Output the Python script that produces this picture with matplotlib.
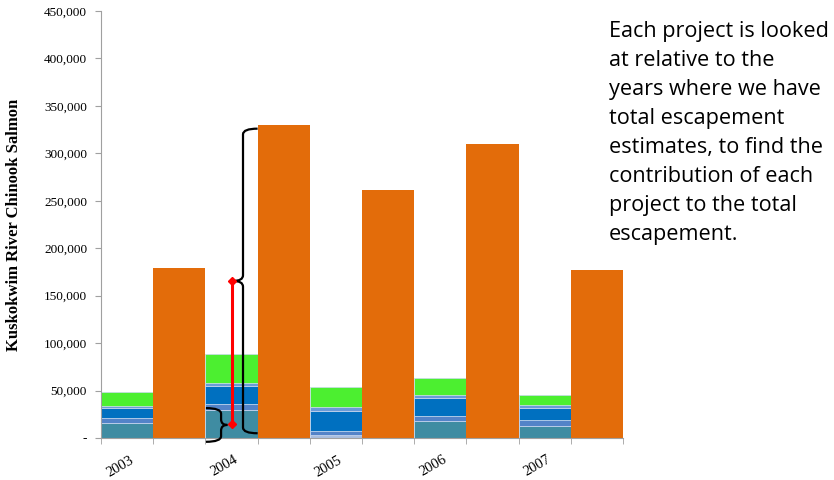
import matplotlib
matplotlib.use("Agg")
import matplotlib.pyplot as plt
import matplotlib.transforms as mtrans
import numpy as np
from matplotlib.path import Path
from matplotlib.patches import PathPatch
from matplotlib.ticker import FuncFormatter

years = ["2003", "2004", "2005", "2006", "2007"]
# stacked project contributions (fish)
teal = [15500, 29500, 0, 17900, 13000]
pale = [0, 0, 3000, 0, 0]
steel = [5300, 6000, 4400, 5300, 6000]
blue = [11200, 19500, 21400, 18900, 13000]
lightblue = [2000, 3000, 3500, 3200, 2800]
green = [14800, 31000, 21100, 17600, 10500]
# total escapement estimates
total = [179000, 330000, 261000, 310000, 177000]

layers = [teal, pale, steel, blue, lightblue, green]
colors = ["#3F8CA2", "#A8BEE0", "#5383C8", "#0070C0", "#6A9BD8", "#4CEF30"]
orange = "#E36C0A"

fig = plt.figure(figsize=(8.34, 4.8), dpi=100)
ax = fig.add_axes([0.1211, 0.0875, 0.626, 0.8896])

n = len(years)
xs_stack = np.arange(n) * 2
xs_tot = xs_stack + 1
bottom = np.zeros(n)
for vals, c in zip(layers, colors):
    v = np.array(vals, dtype=float)
    ax.bar(xs_stack, v, width=1.0, bottom=bottom, color=c, edgecolor="#c9d8ee", linewidth=0.5)
    bottom += v
ax.bar(xs_tot, total, width=1.0, color=orange, edgecolor="none")

ax.set_xlim(-0.5, 2 * n - 0.5)
ax.set_ylim(0, 450000)

# y axis
ax.set_yticks(np.arange(0, 450001, 50000))
ax.yaxis.set_major_formatter(FuncFormatter(lambda v, p: "-" if v == 0 else f"{int(v):,}"))
for lab in ax.get_yticklabels():
    lab.set_fontfamily("Liberation Serif")
    lab.set_fontsize(9.5)
ax.tick_params(axis="y", direction="out", length=4, color="#a0a0a0", pad=6)

# x axis: boundary ticks, labels under stacked bars
ax.set_xticks(np.arange(-0.5, 2 * n, 1.0), minor=True)
ax.set_xticks(xs_stack)
ax.set_xticklabels(years, rotation=30, ha="right", va="top", rotation_mode="anchor",
                   fontfamily="Liberation Serif", fontsize=10.5)
ax.tick_params(axis="x", which="major", length=0, pad=11)
ax.tick_params(axis="x", which="minor", length=4, color="#a0a0a0")
shift = mtrans.ScaledTranslation(2 / 100, 0, fig.dpi_scale_trans)
for lab in ax.get_xticklabels():
    lab.set_transform(lab.get_transform() + shift)

for s in ["top", "right"]:
    ax.spines[s].set_visible(False)
for s in ["left", "bottom"]:
    ax.spines[s].set_color("#a0a0a0")

ax.set_ylabel("Kuskokwim River Chinook Salmon", fontfamily="Liberation Serif",
              fontweight="bold", fontsize=12, labelpad=16)


def brace(ax, x_end, x_spine, x_tip, y0, y1, r):
    ym = (y0 + y1) / 2
    verts = [
        (x_end, y0), (x_spine, y0), (x_spine, y0 + r),
        (x_spine, ym - r), (x_spine, ym), (x_tip, ym),
        (x_spine, ym), (x_spine, ym + r),
        (x_spine, y1 - r), (x_spine, y1), (x_end, y1),
    ]
    codes = [Path.MOVETO, Path.CURVE3, Path.CURVE3,
             Path.LINETO, Path.CURVE3, Path.CURVE3,
             Path.CURVE3, Path.CURVE3,
             Path.LINETO, Path.CURVE3, Path.CURVE3]
    ax.add_patch(PathPatch(Path(verts, codes), fill=False, lw=1.6, color="black",
                           clip_on=False, zorder=5))

x2004 = xs_stack[1]
# small brace around 2004 project portion
brace(ax, x2004 - 0.49, x2004 - 0.2, x2004 - 0.08, -4000, teal[1] + 2000, 6000)
# big brace around 2004 total
brace(ax, x2004 + 0.5, x2004 + 0.22, x2004 + 0.03, 5000, total[1] - 4000, 6000)

# red line connecting the two midpoints
ax.plot([x2004, x2004], [teal[1] / 2, total[1] / 2], color="red", lw=2.2,
        marker="D", markersize=4, zorder=6)

fig.text(0.730, 0.956,
         "Each project is looked\nat relative to the\nyears where we have\ntotal escapement\n"
         "estimates, to find the\ncontribution of each\nproject to the total\nescapement.",
         fontfamily="Open Sans", fontsize=15.6, va="top", ha="left", linespacing=1.5)

fig.savefig("out.png", dpi=100)
